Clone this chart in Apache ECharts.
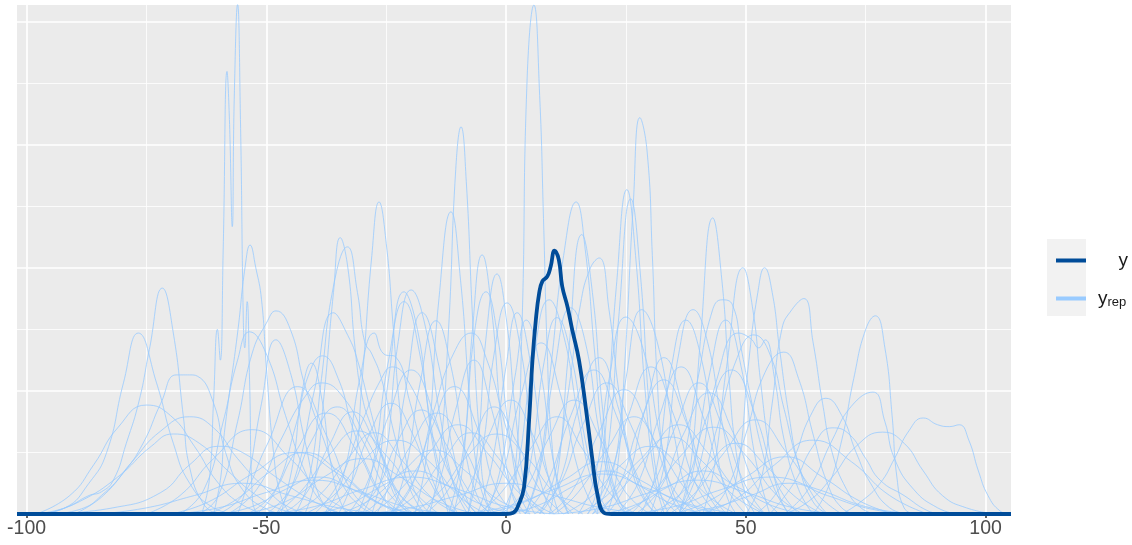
<!DOCTYPE html>
<html>
<head>
<meta charset="utf-8">
<script src="https://cdn.jsdelivr.net/npm/echarts@6/dist/echarts.min.js"></script>
<style>
  html, body { margin: 0; padding: 0; background: #fff; }
  #chart { width: 1132px; height: 545px; }
</style>
</head>
<body>
<div id="chart"></div>
<script>
  'use strict'

  // x tick labels and grid positions
  var xTicks = [-100, -50, 0, 50, 100];
  var xMinor = [-75, -25, 25, 75];
  var yMajor = [2, 4, 6, 8];
  var yMinor = [1, 3, 5, 7];

  // observed density (y)
  var yObs = [[-102,0],[-30,0],[0,0],[1.5,0.02],[2.6,0.15],[3.75,0.44],[4.8,1.53],[5.5,2.5],[6.2,3.15],[6.9,3.59],
    [7.56,3.78],[8.6,3.86],[9.3,4.02],[10.1,4.28],[11,4.13],[11.7,3.7],[12.8,3.37],[13.8,2.99],[15.2,2.5],
    [16.6,1.74],[18,0.88],[19,0.34],[20.4,0.02],[22,0],[40,0],[105.3,0]];

  // replicated densities (y_rep), one array per draw
  var yRep = [
    [[-98,0],[-92,0.1],[-87,0.5],[-83.3,1.0],[-79.8,2.13],[-76.7,2.94],[-72.9,2.13],[-69.4,1.15],[-66,0.5],[-61,0.1],[-56,0]],
    [[-98,0],[-92,0.1],[-87,0.3],[-84.4,0.36],[-81.9,0.55],[-79.2,1.15],[-76.5,1.85],[-74.4,2.67],[-71.7,3.67],[-69.4,2.94],[-67.3,1.58],[-66,0.76],[-63,0.15],[-60,0]],
    [[-98,0],[-91,0.3],[-86,0.8],[-81,1.4],[-75,1.77],[-70,1.6],[-65,1.1],[-60,0.5],[-55,0.15],[-50,0]],
    [[-94,0],[-88,0.1],[-84.4,0.3],[-80,0.65],[-75.7,1.15],[-72,1.8],[-68.75,2.26],[-66,2.26],[-64.4,2.24],[-61,1.8],[-58.5,1.0],[-55,0.4],[-50,0.08],[-46,0]],
    [[-90,0],[-84,0.3],[-78,0.85],[-72,1.35],[-66,1.58],[-61,1.4],[-56,0.9],[-50,0.4],[-45,0.1],[-40,0]],
    [[-96,0],[-89,0.2],[-81,0.6],[-74,1.1],[-69.4,1.3],[-64,1.15],[-58,0.7],[-52,0.3],[-46,0.05],[-42,0]],
    [[-96,0],[-82,0.1],[-72,0.35],[-66,0.8],[-60,1.1],[-55,1.0],[-48,0.6],[-40,0.2],[-34,0]],
    [[-63.5,0],[-61.9,0.55],[-61.0,1.85],[-60.2,3.0],[-59.6,2.5],[-59.0,4.29],[-58.2,7.19],[-57.7,6.41],[-57.1,4.67],[-56.7,6.73],[-56.0,8.28],[-55.4,6.41],[-54.8,3.15],[-54.5,2.7],[-54.0,3.45],[-53.5,2.18],[-52.9,0.23],[-52,0]],
    [[-61,0],[-59.5,0.6],[-58.75,1.32],[-56,2.94],[-54.4,4.03],[-53.4,4.37],[-52.2,4.0],[-51,3.48],[-50,2.39],[-48.5,1.0],[-47,0.3],[-45,0]],
    [[-68,0],[-63,0.4],[-59,1.5],[-56,2.5],[-53.5,2.96],[-50,2.6],[-46,1.6],[-42,0.7],[-38,0.15],[-34,0]],
    [[-64,0],[-60,0.3],[-56,1.5],[-53,2.6],[-50,3.1],[-48,3.3],[-45,3.0],[-42,2.1],[-38,1.2],[-35,0.6],[-30,0.1],[-26,0]],
    [[-56,0],[-54,0.5],[-51,1.8],[-48,2.83],[-45,2.3],[-42,1.2],[-39,0.3],[-36,0]],
    [[-42,0],[-40,0.5],[-38,1.9],[-36,3.6],[-34.6,4.49],[-33,4.0],[-31.5,2.7],[-30,1.9],[-28,1.4],[-25,0.8],[-22,0.2],[-19,0]],
    [[-44,0],[-41,0.6],[-38.5,2.2],[-36,3.7],[-33.1,4.34],[-31,3.6],[-29.5,2.8],[-28,2.6],[-26,2.2],[-23,1.2],[-20,0.4],[-17,0]],
    [[-48,0],[-44,0.6],[-40,2.0],[-36,3.27],[-33,2.9],[-31,2.5],[-28,1.6],[-25,0.7],[-22,0.15],[-19,0]],
    [[-52,0],[-48,0.4],[-44,1.4],[-41,2.3],[-38.3,2.57],[-35,2.2],[-32,1.4],[-28,0.6],[-24,0.1],[-21,0]],
    [[-47,0],[-44.5,0.8],[-42.5,2.0],[-40.6,2.45],[-38.5,1.9],[-36.5,0.8],[-34,0.1],[-32,0]],
    [[-58,0],[-52,0.4],[-47,1.2],[-42,1.9],[-38.5,2.13],[-34,1.9],[-29,1.2],[-24,0.5],[-19,0.1],[-15,0]],
    [[-35,0],[-32,0.6],[-30,2.2],[-28,4.2],[-26.5,5.07],[-25,4.4],[-23.5,3.0],[-22,1.6],[-20,0.6],[-17,0.1],[-15,0]],
    [[-16,0],[-14,0.8],[-12,3.0],[-10.5,5.6],[-9.4,6.29],[-8.3,5.4],[-7,3.2],[-5.5,1.2],[-4,0.2],[-2,0]],
    [[-19,0],[-16.5,1.0],[-14,3.5],[-11.5,4.91],[-9.5,3.8],[-7.5,1.8],[-5.5,0.5],[-3,0]],
    [[-11,0],[-9,0.8],[-7,3.0],[-5,4.21],[-3,3.3],[-1,1.5],[1,0.4],[3,0]],
    [[-8,0],[-6,1.0],[-4,3.0],[-1.9,3.9],[0,3.2],[2,1.6],[4,0.4],[6,0]],
    [[-12,0],[-9,1.0],[-6.5,3.0],[-4.2,3.61],[-2,3.0],[0.5,1.4],[3,0.3],[5,0]],
    [[-30,0],[-27,0.6],[-24.5,2.2],[-21.3,3.61],[-18.5,3.0],[-16,1.6],[-13,0.5],[-10,0]],
    [[-28,0],[-25,1.0],[-22.5,2.8],[-19.8,3.64],[-17,3.1],[-14,1.7],[-11,0.5],[-8,0]],
    [[-31,0],[-28,0.7],[-24.5,2.5],[-21.3,3.45],[-18,2.6],[-15,1.0],[-12,0]],
    [[-27,0],[-24,0.6],[-21,2.0],[-17.5,3.27],[-14,2.4],[-11,1.0],[-8,0.2],[-6,0]],
    [[-24,0],[-21,0.7],[-18,2.1],[-14.6,3.14],[-11.5,2.4],[-8.5,1.0],[-5.5,0.2],[-3,0]],
    [[-38,0],[-34,0.6],[-30.5,2.2],[-27.5,2.94],[-25.5,2.6],[-23,2.55],[-20,1.8],[-16,0.7],[-12,0.1],[-9,0]],
    [[-24,0],[-19,0.6],[-15,1.7],[-11,2.6],[-7.3,2.94],[-4,2.5],[0,1.4],[4,0.4],[8,0]],
    [[-40,0],[-35,0.5],[-30,1.5],[-26,2.2],[-23.75,2.39],[-20,2.1],[-15,1.2],[-10,0.4],[-6,0]],
    [[-17,0],[-14,0.5],[-10.5,1.7],[-6.7,2.5],[-3,1.7],[0.5,0.5],[4,0]],
    [[-8,0],[-5,1.0],[-2.5,2.6],[0.2,3.43],[3,2.7],[5.5,1.2],[8,0.3],[10,0]],
    [[-6,0],[-3,0.8],[0,2.4],[2.3,3.27],[5,2.5],[8,0.9],[11,0]],
    [[-4,0],[-1,0.8],[2,2.3],[4.2,3.15],[7,2.4],[10,0.8],[13,0]],
    [[0,0],[2,0.8],[3.3,3.0],[4.4,7.1],[5.8,8.27],[7,6.8],[7.8,4.8],[8.6,2.6],[9.5,1.2],[11,0.4],[13,0]],
    [[4,0],[7,0.8],[9.5,2.5],[12,4.2],[14.6,5.07],[16.5,4.3],[18.5,2.6],[20.5,1.1],[23,0.3],[26,0]],
    [[9,0],[11,0.8],[13,2.6],[15.8,4.54],[18,3.6],[20,1.8],[22,0.6],[25,0]],
    [[7,0],[10,0.6],[13,2.0],[15.5,3.4],[17.6,4.0],[19.4,4.16],[21.5,3.3],[23.5,2.0],[26,0.8],[29,0.2],[32,0]],
    [[21,0],[23,0.6],[24.8,2.5],[26.5,5.0],[27.9,6.44],[29.4,5.9],[30.5,4.2],[31.5,2.2],[33,0.8],[35,0.2],[37,0]],
    [[17,0],[19,0.4],[21,1.6],[23,3.7],[25.2,5.27],[27,4.2],[29,2.0],[31,0.6],[33,0]],
    [[19,0],[21.5,1.2],[23.5,3.2],[26,5.12],[28,3.9],[30,1.6],[32,0.4],[34,0]],
    [[30,0],[33,0.8],[36,2.6],[39,3.32],[42,2.8],[45,1.5],[48,0.5],[51,0]],
    [[28,0],[31,0.6],[34.5,2.4],[37.5,3.15],[40.5,2.6],[43.5,1.2],[46,0.3],[48,0]],
    [[15,0],[18.5,0.6],[21.5,2.2],[25,3.2],[28.5,2.7],[32,1.3],[35,0.3],[38,0]],
    [[18,0],[22,0.6],[25,2.2],[28.3,3.32],[31.5,2.8],[35,1.3],[38,0.3],[41,0]],
    [[-1,0],[2,0.6],[5.5,2.4],[9,3.48],[12,2.9],[15,1.6],[18,0.5],[21,0]],
    [[2,0],[5,0.8],[8,2.5],[10.6,3.19],[13.5,2.6],[16.5,1.2],[19.5,0.3],[22,0]],
    [[4,0],[7,0.7],[10,2.3],[13.5,3.35],[16.5,2.8],[19.5,1.3],[22.5,0.3],[25,0]],
    [[7,0],[11,0.5],[15,1.7],[19.4,2.54],[23.5,1.7],[27.5,0.5],[31,0]],
    [[21,0],[25,0.5],[29,1.7],[32.9,2.54],[37,1.7],[41,0.5],[45,0]],
    [[36,0],[38.5,0.8],[40.5,2.8],[43.1,4.81],[45,3.8],[46.5,2.2],[48,1.0],[50,0.3],[52,0]],
    [[41,0],[43.5,0.8],[46,2.4],[49.4,4.0],[51.5,3.3],[53,2.2],[55,1.0],[57,0.3],[59,0]],
    [[46,0],[48.5,0.8],[50.5,2.4],[52.5,3.6],[53.9,4.0],[55.5,3.6],[57,2.7],[59,1.6],[61,0.8],[64,0.2],[67,0]],
    [[36,0],[40,0.7],[44,2.2],[48.5,2.94],[51,2.85],[52.7,2.7],[54,2.83],[56,2.2],[58,1.2],[61,0.4],[64,0]],
    [[50,0],[53,0.5],[55.5,1.8],[57.5,3.0],[59.6,3.32],[62.1,3.5],[64,2.8],[66,1.8],[68,1.0],[71,0.4],[74,0.1],[77,0]],
    [[42,0],[46,0.4],[50,1.3],[54,2.3],[57.9,2.63],[61,2.2],[64,1.3],[67,0.5],[70,0.1],[73,0]],
    [[32,0],[36,0.6],[40,2.2],[43,3.3],[45,3.48],[47.2,3.4],[49,2.7],[51,1.9],[53.5,1.0],[56,0.4],[59,0]],
    [[36,0],[39,0.7],[42.5,2.3],[45.8,3.15],[49,2.4],[52,0.9],[55,0]],
    [[36,0],[40,0.4],[44,1.4],[48,2.5],[51.7,2.91],[55,2.6],[58,1.7],[61,0.8],[64,0.3],[67,0]],
    [[52,0],[56,0.3],[60,0.9],[63.5,1.6],[66.7,1.88],[70,1.6],[73,1.0],[76,0.5],[80,0.1],[84,0]],
    [[64,0],[67,0.4],[70,1.2],[72.5,2.2],[75,3.0],[77,3.22],[79,2.7],[80.5,1.6],[81.5,0.6],[83,0.1],[85,0]],
    [[58,0],[63,0.4],[68,1.2],[72,1.75],[76.5,1.98],[79,1.5],[81,0.9],[85,0.4],[90,0.1],[94,0]],
    [[58,0],[63,0.2],[68,0.6],[73,1.1],[78.5,1.33],[83,1.15],[87,0.7],[91,0.3],[96,0.1],[102,0]],
    [[70,0],[74,0.2],[78,0.5],[81,0.9],[84,1.35],[87,1.56],[90,1.45],[92.5,1.42],[94.5,1.45],[96.5,1.2],[98.5,0.7],[100.5,0.3],[103,0.05],[105,0]],
    [[55,0],[60,0.5],[64,1.1],[68,1.4],[71.5,1.3],[75,0.9],[78,0.55],[83,0.3],[88,0.05],[91,0]],
    [[-60,0],[-55,0.3],[-50,1.1],[-43.5,2.07],[-37,1.2],[-32,0.35],[-27,0]],
    [[-54,0],[-49,0.3],[-44,1.0],[-37.5,1.64],[-31,1.0],[-26,0.3],[-21,0]],
    [[-50,0],[-45,0.4],[-40.5,1.2],[-35.2,1.74],[-30,1.2],[-25,0.4],[-20,0]],
    [[-47,0],[-42,0.3],[-37,1.1],[-32,1.66],[-27,1.1],[-22,0.3],[-17,0]],
    [[-75,0],[-68,0.3],[-61,0.9],[-53,1.37],[-45,0.9],[-38,0.3],[-31,0]],
    [[-38,0],[-33,0.4],[-28.5,1.3],[-24,1.8],[-19.5,1.3],[-15,0.4],[-10,0]],
    [[-32,0],[-27,0.4],[-22.5,1.2],[-17.7,1.69],[-13,1.2],[-8,0.4],[-3,0]],
    [[-30,0],[-25,0.35],[-20,1.1],[-14.4,1.64],[-9,1.1],[-4,0.35],[1,0]],
    [[-24,0],[-20,0.4],[-15.5,1.4],[-10.8,2.07],[-6,1.4],[-2,0.4],[2,0]],
    [[-33,0],[-29,0.5],[-24.5,1.6],[-19.8,2.34],[-15,1.6],[-11,0.5],[-7,0]],
    [[-25,0],[-19,0.3],[-13,0.9],[-7.3,1.32],[-1.5,0.9],[4,0.3],[10,0]],
    [[-17,0],[-12,0.4],[-7,1.2],[-2.5,1.74],[2,1.2],[7,0.4],[12,0]],
    [[-12,0],[-8,0.4],[-3.5,1.3],[1,1.85],[5.5,1.3],[10,0.4],[14,0]],
    [[-45,0],[-39,0.3],[-33,0.9],[-27.5,1.32],[-22,0.9],[-16,0.3],[-10,0]],
    [[-35,0],[-28,0.25],[-21.5,0.7],[-15,1.04],[-8.5,0.7],[-2,0.25],[5,0]],
    [[-5,0],[-1,0.6],[3,1.9],[7.3,2.78],[11.5,1.9],[15.5,0.6],[19,0]],
    [[4,0],[8.5,0.5],[13.5,1.6],[18.3,2.34],[23,1.6],[28,0.5],[32,0]],
    [[6,0],[11,0.45],[16,1.45],[21,2.13],[26,1.45],[31,0.45],[36,0]],
    [[9,0],[14,0.4],[19.5,1.35],[24.6,2.02],[30,1.35],[35,0.4],[40,0]],
    [[17,0],[21,0.5],[25.5,1.6],[30.2,2.39],[35,1.6],[39.5,0.5],[44,0]],
    [[19,0],[23.5,0.45],[28,1.5],[32.9,2.18],[37.5,1.5],[42,0.45],[46,0]],
    [[23,0],[27.5,0.5],[32,1.6],[36.5,2.39],[41,1.6],[45.5,0.5],[50,0]],
    [[-1,0],[4,0.4],[9,1.25],[14.2,1.85],[19.5,1.25],[24.5,0.4],[30,0]],
    [[-6,0],[-1,0.35],[5,1.05],[10.6,1.58],[16,1.05],[21.5,0.35],[27,0]],
    [[10,0],[15,0.35],[21,1.05],[26.7,1.58],[32,1.05],[38,0.35],[43,0]],
    [[15,0],[21,0.3],[27.5,0.85],[34.4,1.25],[41,0.85],[47.5,0.3],[54,0]],
    [[26,0],[30.5,0.45],[35.5,1.45],[40.2,2.13],[45,1.45],[50,0.45],[54,0]],
    [[27,0],[32,0.4],[37,1.3],[42.3,1.97],[47.5,1.3],[52.5,0.4],[57,0]],
    [[24,0],[30,0.3],[36.5,0.95],[43.3,1.41],[50,0.95],[56.5,0.3],[62,0]],
    [[34,0],[39.5,0.35],[45.5,1.0],[52,1.53],[58.5,1.0],[64.5,0.35],[70,0]],
    [[33,0],[37.5,0.5],[42,1.6],[47,2.34],[52,1.6],[56.5,0.5],[61,0]],
    [[35,0],[42,0.2],[50,0.6],[58.3,0.93],[66,0.6],[74,0.2],[81,0]],
    [[-70,0],[-62,0.2],[-53,0.65],[-44,1.0],[-35,0.65],[-27,0.2],[-19,0]],
    [[-55,0],[-46,0.2],[-38,0.6],[-30,0.9],[-22,0.6],[-14,0.2],[-6,0]],
    [[-5,0],[4,0.2],[12,0.55],[20,0.85],[28,0.55],[36,0.2],[45,0]],
    [[40,0],[48,0.25],[56,0.8],[64,1.2],[72,0.85],[80,0.3],[88,0]],
    [[-42,0],[-36,0.3],[-30,0.85],[-23,1.2],[-16,0.85],[-10,0.3],[-4,0]],
    [[-20,0],[-14,0.35],[-8,0.95],[-2,1.3],[4,0.95],[10,0.35],[16,0]],
    [[12,0],[18,0.3],[24,0.8],[30,1.1],[36,0.8],[42,0.3],[48,0]],
    [[30,0],[36,0.3],[42,0.8],[48,1.15],[54,0.8],[60,0.3],[66,0]],
    [[-62,0],[-56,0.25],[-49,0.7],[-42,1.0],[-35,0.7],[-28,0.25],[-22,0]],
    [[-28,0],[-22,0.4],[-16,1.0],[-10,1.45],[-4,1.0],[2,0.4],[8,0]],
    [[18,0],[24,0.4],[30,1.0],[36,1.45],[42,1.0],[48,0.4],[54,0]],
    [[-48,0],[-43,0.35],[-37,0.95],[-31,1.35],[-25,0.95],[-19,0.35],[-14,0]],
    [[-70,0],[-60,0.1],[-50,0.35],[-40,0.55],[-30,0.35],[-20,0.1],[-10,0]],
    [[-50,0],[-40,0.12],[-30,0.4],[-20,0.6],[-10,0.4],[0,0.12],[10,0]],
    [[-30,0],[-20,0.1],[-10,0.3],[0,0.5],[10,0.3],[20,0.1],[30,0]],
    [[-10,0],[0,0.12],[10,0.4],[20,0.65],[30,0.4],[40,0.12],[50,0]],
    [[10,0],[20,0.1],[30,0.35],[40,0.55],[50,0.35],[60,0.1],[70,0]],
    [[25,0],[35,0.12],[45,0.4],[55,0.6],[65,0.4],[75,0.12],[85,0]],
    [[-85,0],[-75,0.1],[-65,0.3],[-55,0.5],[-45,0.3],[-35,0.1],[-25,0]],
    [[-40,0],[-33,0.15],[-26,0.45],[-19,0.7],[-12,0.45],[-5,0.15],[2,0]],
    [[0,0],[7,0.15],[14,0.45],[21,0.7],[28,0.45],[35,0.15],[42,0]],
    [[20,0],[27,0.15],[34,0.45],[41,0.7],[48,0.45],[55,0.15],[62,0]],
    [[-60,0],[-53,0.12],[-46,0.4],[-39,0.6],[-32,0.4],[-25,0.12],[-18,0]],
    [[35,0],[43,0.1],[51,0.3],[59,0.5],[67,0.3],[75,0.1],[83,0]]
  ];

  var chart = echarts.init(document.getElementById('chart'));

  var gridLines = [];
  xTicks.forEach(function (v) { gridLines.push({ xAxis: v, lineStyle: { width: 1.7 } }); });
  xMinor.forEach(function (v) { gridLines.push({ xAxis: v, lineStyle: { width: 0.8 } }); });
  yMajor.forEach(function (v) { gridLines.push({ yAxis: v, lineStyle: { width: 1.7 } }); });
  yMinor.forEach(function (v) { gridLines.push({ yAxis: v, lineStyle: { width: 0.8 } }); });

  var series = [{
    name: 'grid',
    type: 'line',
    data: [],
    silent: true,
    markLine: {
      silent: true,
      z: 1,
      symbol: ['none', 'none'],
      label: { show: false },
      animation: false,
      lineStyle: { color: '#ffffff', type: 'solid' },
      data: gridLines
    }
  }];

  yRep.forEach(function (d) {
    series.push({
      name: 'yrep',
      type: 'line',
      data: d,
      smooth: 0.5,
      symbol: 'none',
      silent: true,
      clip: true,
      z: 2,
      lineStyle: { color: '#99cbff', width: 1, opacity: 0.8 }
    });
  });

  series.push({
    name: 'y',
    type: 'line',
    data: yObs,
    smooth: 0.45,
    symbol: 'none',
    silent: true,
    clip: true,
    z: 3,
    lineStyle: { color: '#004c99', width: 3.8 }
  });

  var option = {
    animation: false,
    color: ['#99cbff', '#004c99'],
    grid: {
      left: 17, right: 121, top: 5, bottom: 31,
      show: true, backgroundColor: '#ebebeb', borderWidth: 0
    },
    xAxis: {
      type: 'value',
      min: -102,
      max: 105.3,
      splitLine: { show: false },
      axisLine: { show: false },
      axisTick: {
        show: true, length: 4, customValues: xTicks,
        lineStyle: { color: '#333333', width: 1.5 }
      },
      axisLabel: {
        customValues: xTicks,
        color: '#4d4d4d',
        fontSize: 19.5,
        fontFamily: 'Liberation Sans',
        margin: 5
      }
    },
    yAxis: {
      type: 'value',
      min: 0,
      max: 8.27,
      show: false
    },
    graphic: [{
      type: 'rect',
      shape: { x: 1047, y: 239, width: 39, height: 77 },
      style: { fill: '#f2f2f2' },
      z: 0
    }],
    legend: [{
      data: [{ name: 'y', icon: 'rect', itemStyle: { color: '#004c99', opacity: 1 } }],
      left: 1051,
      top: 246,
      itemWidth: 30,
      itemHeight: 4,
      selectedMode: false,
      formatter: function () { return '{n|y}'; },
      textStyle: {
        rich: { n: { fontSize: 19, fontFamily: 'Liberation Sans', color: '#1a1a1a', width: 37, align: 'right' } }
      }
    }, {
      data: [{ name: 'yrep', icon: 'rect', itemStyle: { color: '#99cbff', opacity: 1 } }],
      left: 1051,
      top: 284,
      itemWidth: 30,
      itemHeight: 4,
      selectedMode: false,
      formatter: function () { return '{n|y}{s|rep}'; },
      textStyle: {
        rich: {
          n: { fontSize: 19, fontFamily: 'Liberation Sans', color: '#1a1a1a', padding: [0, 0, 0, 7] },
          s: { fontSize: 13, fontFamily: 'Liberation Sans', color: '#1a1a1a', padding: [8, 0, 0, 0] }
        }
      }
    }],
    series: series
  };

  chart.setOption(option);
  window.addEventListener('resize', function () {
    chart.resize();
  });
</script>
</body>
</html>
